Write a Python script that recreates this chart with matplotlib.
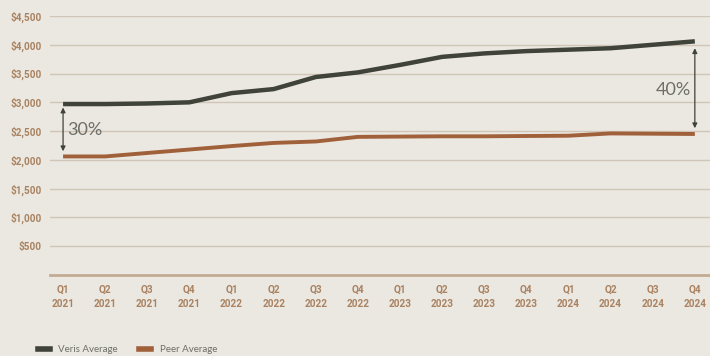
import numpy as np
import matplotlib.pyplot as plt
from matplotlib.lines import Line2D

# Data
quarters = ['Q1\n2021', 'Q2\n2021', 'Q3\n2021', 'Q4\n2021',
            'Q1\n2022', 'Q2\n2022', 'Q3\n2022', 'Q4\n2022',
            'Q1\n2023', 'Q2\n2023', 'Q3\n2023', 'Q4\n2023',
            'Q1\n2024', 'Q2\n2024', 'Q3\n2024', 'Q4\n2024']
veris = [2970, 2970, 2980, 3000, 3160, 3230, 3440, 3520,
         3650, 3790, 3850, 3890, 3915, 3940, 4000, 4060]
peer = [2060, 2060, 2120, 2180, 2240, 2295, 2320, 2400,
        2405, 2410, 2410, 2415, 2420, 2460, 2455, 2450]
yticks = [500, 1000, 1500, 2000, 2500, 3000, 3500, 4000, 4500]
ytick_labels = ['$500', '$1,000', '$1,500', '$2,000', '$2,500',
                '$3,000', '$3,500', '$4,000', '$4,500']
gap_labels = ['30%', '40%']

bg = '#ebe8e1'
grid_c = '#cfc6b8'
tick_c = '#a98261'
veris_c = '#3f4339'
peer_c = '#a0603a'

fig = plt.figure(figsize=(7.1, 3.56), dpi=100, facecolor=bg)
ax = fig.add_axes([50 / 710, 81 / 356, 660 / 710, 259 / 356], facecolor=bg)

x = np.arange(len(quarters))
ax.plot(x, veris, color=veris_c, lw=3.2, solid_capstyle='butt', zorder=3)
ax.plot(x, peer, color=peer_c, lw=2.8, solid_capstyle='butt', zorder=3)

ax.set_xlim(-0.31, len(quarters) - 1 + 0.36)
ax.set_ylim(0, 4500)
ax.set_yticks(yticks)
ax.set_yticklabels(ytick_labels)
ax.set_xticks(x)
ax.set_xticklabels(quarters)
ax.grid(axis='y', color=grid_c, lw=1)
ax.set_axisbelow(True)
for s in ['top', 'right', 'left']:
    ax.spines[s].set_visible(False)
ax.spines['bottom'].set_color('#c2ab92')
ax.spines['bottom'].set_linewidth(2)
ax.tick_params(length=0, pad=7)
ax.tick_params(axis='y', pad=6)
for lab in ax.get_xticklabels() + ax.get_yticklabels():
    lab.set_fontfamily('Roboto')
    lab.set_fontweight('bold')
    lab.set_fontsize(7.2)
    lab.set_color(tick_c)
for lab in ax.get_xticklabels():
    lab.set_linespacing(1.55)

# Gap annotations
arrow = dict(arrowstyle='<|-|>', color=veris_c, lw=0.9, mutation_scale=7,
             shrinkA=0, shrinkB=0)
ax.annotate('', xy=(0, veris[0] - 60), xytext=(0, peer[0] + 90), arrowprops=arrow)
ax.text(0.1, (veris[0] + peer[0]) / 2, gap_labels[0], fontsize=13, color='#6e6e68',
        family='Lato', va='center', ha='left')
ax.annotate('', xy=(15, veris[-1] - 120), xytext=(15, peer[-1] + 100), arrowprops=arrow)
ax.text(14.9, 3220, gap_labels[1], fontsize=13, color='#6e6e68',
        family='Lato', va='center', ha='right')

handles = [Line2D([], [], color=veris_c, lw=4), Line2D([], [], color=peer_c, lw=4)]
fig.legend(handles, ['Veris Average', 'Peer Average'], loc='center left',
           bbox_to_anchor=(33 / 710, 6 / 356), ncol=2, frameon=False,
           handlelength=1.2, columnspacing=2.2, handletextpad=0.9,
           prop={'family': 'Lato', 'size': 7}, labelcolor='#6e6e68',
           borderpad=0)

fig.savefig('out.png', dpi=100, facecolor=bg)
